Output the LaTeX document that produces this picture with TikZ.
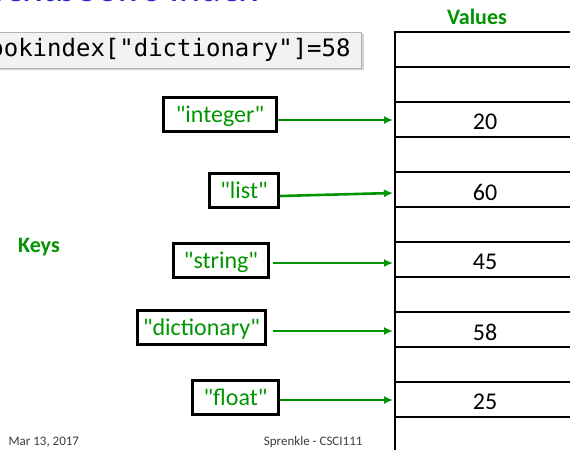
\documentclass[tikz,border=0pt]{standalone}
\usepackage{fontspec}
\setmainfont{Carlito}
\newfontfamily\keyfont{Carlito}
\newfontfamily\codefont{DejaVu Sans Mono}
\usetikzlibrary{arrows.meta,shadows}
\definecolor{kgreen}{RGB}{0,148,0}
\definecolor{tblue}{RGB}{40,40,210}
\definecolor{codebg}{RGB}{242,242,242}
\definecolor{footgray}{RGB}{60,60,60}
\tikzset{
  keybox/.style={draw=black,line width=3pt,text=kgreen,font=\keyfont\fontsize{24}{28}\selectfont,inner sep=0pt,minimum height=34pt,text depth=0pt},
  valtext/.style={font=\fontsize{24}{28}\selectfont,text=black},
  keyarrow/.style={draw=kgreen,line width=2.6pt,-{Latex[length=9pt,width=8pt]}},
  rowline/.style={line width=1.5pt,black},
  header/.style={font=\bfseries\fontsize{22}{26}\selectfont,text=kgreen},
  foot/.style={font=\fontsize{13}{15}\selectfont,text=footgray}
}
\begin{document}
\begin{tikzpicture}[x=1pt,y=-1pt]
\useasboundingbox (0,0) rectangle (570,450);
\fill[white] (0,0) rectangle (570,450);
% title (cut off)
\node[anchor=base east,font=\fontsize{40}{44}\selectfont,text=tblue,inner sep=0pt] (title) at (258,1) {Textbook's Index};
% code box
\node[anchor=east,fill=codebg,draw=gray!60,line width=0.8pt,drop shadow={shadow xshift=2pt,shadow yshift=-2pt,opacity=0.35},minimum height=36pt,inner xsep=11pt,font=\codefont\fontsize{24}{28}\selectfont] (code) at (362,50) {bookindex["dictionary"]=58};
% table
\draw[rowline,line width=2pt] (395,32) -- (570,32);
\foreach \yy in {67,102,137,172,207,242,277,312,347,382,417}{
  \draw[rowline] (395,\yy) -- (570,\yy);
}
\draw[line width=2.5pt,black] (395,31) -- (395,450);
\node[header] (values) at (477,17) {Values};
\node[header] (keys) at (39,247) {Keys};
\node[valtext] (v20) at (485,122) {20};
\node[valtext] (v60) at (485,192) {60};
\node[valtext] (v45) at (485,262) {45};
\node[valtext] (v58) at (485,332) {58};
\node[valtext] (v25) at (485,402) {25};
\coordinate (t20) at (393,120);
\coordinate (t60) at (393,193);
\coordinate (t45) at (393,263);
\coordinate (t58) at (393,331);
\coordinate (t25) at (393,400);
% keys
\node[keybox,minimum width=113pt] (kint) at (220,114) {"integer"};
\node[keybox,minimum width=69pt] (klist) at (244,190) {"list"};
\node[keybox,minimum width=95pt] (kstr) at (221,260.5) {"string"};
\node[keybox,minimum width=128pt] (kdict) at (201.5,327) {"dictionary"};
\node[keybox,minimum width=86pt] (kflt) at (235.5,397.5) {"float"};
% arrows
\draw[keyarrow] (kint.east |- t20) -- (t20);
\draw[keyarrow] ([yshift=-6pt]klist.east) -- (t60);
\draw[keyarrow] ([xshift=3pt]kstr.east |- t45) -- (t45);
\draw[keyarrow] ([xshift=6pt]kdict.east |- t58) -- (t58);
\draw[keyarrow] (kflt.east |- t25) -- (t25);
% footer
\node[foot,anchor=west] (date) at (5,442) {Mar 13, 2017};
\node[foot,anchor=east] (auth) at (366,442) {Sprenkle - CSCI111};
\end{tikzpicture}
\end{document}
